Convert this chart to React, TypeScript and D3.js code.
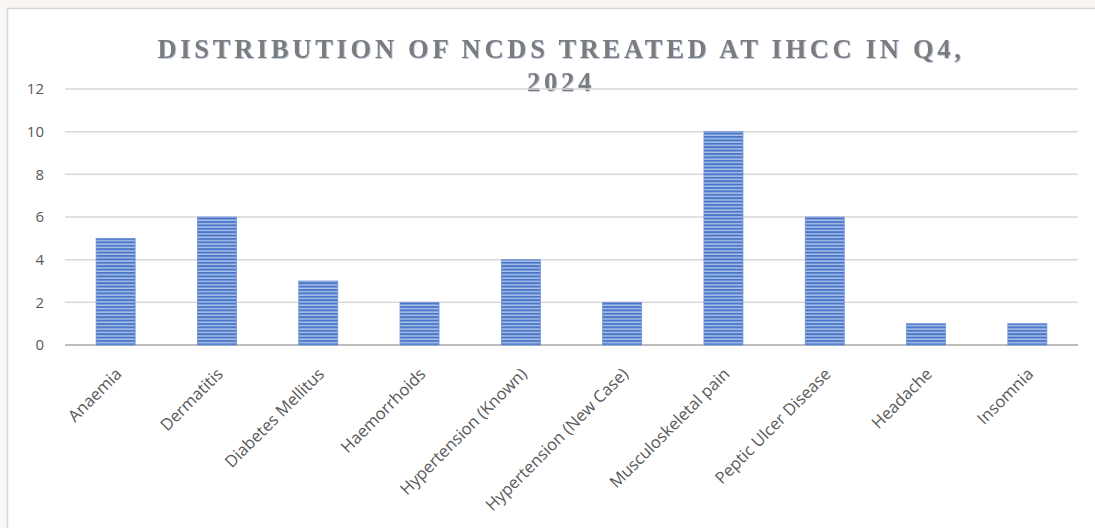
import React from "react";
import * as d3 from "d3";

const categories = [
  "Anaemia",
  "Dermatitis",
  "Diabetes Mellitus",
  "Haemorrhoids",
  "Hypertension (Known)",
  "Hypertension (New Case)",
  "Musculoskeletal pain",
  "Peptic Ulcer Disease",
  "Headache",
  "Insomnia",
];
const values = [5, 6, 3, 2, 4, 2, 10, 6, 1, 1];
const yTicks = [0, 2, 4, 6, 8, 10, 12];
const titleLines = ["DISTRIBUTION OF NCDS TREATED AT IHCC IN Q4,", "2024"];

const W = 1095;
const H = 528;
const plotLeft = 65;
const plotRight = 1078;
const plotTop = 89;
const plotBottom = 345;

export default function App() {
  React.useEffect(() => {
    document.body.style.margin = "0";
  }, []);
  const x = d3
    .scaleBand<string>()
    .domain(categories)
    .range([plotLeft, plotRight])
    .paddingInner(0.615)
    .paddingOuter(0.3075);
  const y = d3.scaleLinear().domain([0, 12]).range([plotBottom, plotTop]);
  const labelFont = "'Open Sans', 'Noto Sans', sans-serif";

  return (
    <svg width={W} height={H} style={{ display: "block" }}>
      <defs>
        <pattern id="stripes" patternUnits="userSpaceOnUse" width={8} height={3.4}>
          <rect x={0} y={0} width={8} height={3.4} fill="#aec3ea" />
          <rect x={0} y={0} width={8} height={2} fill="#4a77c8" />
        </pattern>
        <filter id="tshadow" x="-5%" y="-20%" width="110%" height="140%">
          <feDropShadow dx={0.8} dy={0.8} stdDeviation={0.4} floodColor="#9fb3d6" floodOpacity={0.8} />
        </filter>
      </defs>
      <rect x={0} y={0} width={W} height={H} fill="#f9f6f3" />
      <rect x={7.5} y={8.5} width={W} height={H} fill="#ffffff" stroke="#d6d6d6" strokeWidth={1.5} />

      {titleLines.map((t, i) => (
        <text
          key={i}
          x={561}
          y={58 + i * 33}
          textAnchor="middle"
          fontFamily="'Liberation Serif', 'DejaVu Serif', serif"
          fontWeight="bold"
          fontSize={26.5}
          letterSpacing={3.7}
          fill="#7b7b7b"
          filter="url(#tshadow)"
        >
          {t}
        </text>
      ))}

      {yTicks.map((t) => (
        <g key={t}>
          <line
            x1={plotLeft}
            x2={plotRight}
            y1={y(t)}
            y2={y(t)}
            stroke={t === 0 ? "#bdbdbd" : "#d9d9d9"}
            strokeWidth={t === 0 ? 2 : 1.5}
          />
          <text
            x={44}
            y={y(t)}
            dy="0.35em"
            textAnchor="end"
            fontFamily={labelFont}
            fontSize={15}
            fill="#595959"
          >
            {t}
          </text>
        </g>
      ))}

      {categories.map((c, i) => (
        <rect
          key={c}
          x={x(c)!}
          y={y(values[i])}
          width={x.bandwidth()}
          height={y(0) - y(values[i])}
          fill="url(#stripes)"
          stroke="#6f93d6"
          strokeWidth={0.8}
        />
      ))}

      {categories.map((c) => {
        const cx = x(c)! + x.bandwidth() / 2;
        return (
          <text
            key={c}
            transform={`translate(${cx + 3},${371}) rotate(-45)`}
            textAnchor="end"
            dy="0.35em"
            fontFamily={labelFont}
            fontSize={16.5}
            fill="#595959"
          >
            {c}
          </text>
        );
      })}
    </svg>
  );
}
